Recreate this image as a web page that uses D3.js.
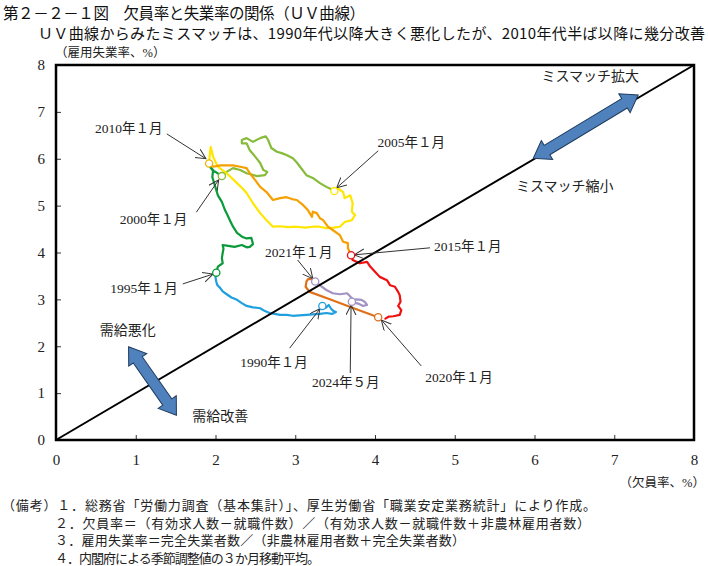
<!DOCTYPE html>
<html>
<head>
<meta charset="utf-8">
<script src="https://cdn.jsdelivr.net/npm/d3@7"></script>
<style>
	body { margin: 0; background: #fff; }
	svg { display: block; }
	.serif { font-family: "Liberation Serif", "Noto Sans CJK JP", serif; fill: #222; }
	.gothic { font-family: "Noto Sans CJK JP", sans-serif; fill: #111; }
	.curve { fill: none; stroke-width: 2.2; stroke-linejoin: round; stroke-linecap: round; }
</style>
</head>
<body>
<svg id="chart" width="708" height="566"></svg>
<script>
// UV curve: [vacancy rate, employed-person unemployment rate], 3-month moving average
const period1990 = [[3.34,2.86],[3.38,2.82],[3.42,2.88],[3.45,2.80],[3.48,2.75],[3.51,2.73],[3.46,2.69],[3.39,2.71],[3.31,2.69],[3.22,2.68],[3.14,2.67],[3.05,2.66],[2.97,2.65],[2.89,2.67],[2.81,2.67],[2.74,2.69],[2.68,2.71],[2.62,2.75],[2.56,2.81],[2.47,2.83],[2.39,2.86],[2.33,2.92],[2.27,2.99],[2.20,3.04],[2.14,3.11],[2.09,3.17],[2.06,3.24],[2.02,3.31],[2.01,3.38],[2.00,3.47],[2.01,3.57]];
const period1995 = [[2.01,3.57],[2.03,3.70],[2.09,3.77],[2.08,3.88],[2.09,3.99],[2.10,4.08],[2.09,4.16],[2.16,4.14],[2.24,4.12],[2.33,4.16],[2.39,4.11],[2.43,4.12],[2.47,4.18],[2.45,4.31],[2.39,4.30],[2.34,4.33],[2.27,4.42],[2.22,4.55],[2.20,4.62],[2.18,4.69],[2.15,4.80],[2.12,4.90],[2.08,5.08],[2.03,5.22],[2.01,5.33],[1.99,5.44],[1.96,5.61],[1.97,5.76],[1.93,5.83],[1.97,5.74],[2.00,5.72],[2.08,5.63]];
const period2000 = [[2.08,5.63],[2.14,5.72],[2.22,5.80],[2.31,5.76],[2.39,5.69],[2.46,5.66],[2.52,5.63],[2.62,5.65],[2.65,5.72],[2.60,5.76],[2.56,5.91],[2.50,6.04],[2.47,6.10],[2.43,6.18],[2.39,6.33],[2.33,6.33],[2.33,6.40],[2.39,6.44],[2.47,6.36],[2.56,6.44],[2.63,6.48],[2.66,6.40],[2.70,6.23],[2.77,6.15],[2.83,6.12],[2.89,6.08],[2.97,6.01],[3.02,5.92],[3.06,5.83],[3.14,5.65],[3.22,5.59],[3.31,5.48],[3.39,5.40],[3.44,5.36],[3.49,5.31]];
const period2005 = [[3.49,5.31],[3.54,5.37],[3.60,5.29],[3.62,5.16],[3.69,5.22],[3.72,5.05],[3.71,4.87],[3.75,4.80],[3.71,4.69],[3.62,4.65],[3.56,4.55],[3.48,4.53],[3.39,4.52],[3.30,4.55],[3.22,4.55],[3.12,4.53],[3.02,4.55],[2.91,4.54],[2.81,4.56],[2.72,4.55],[2.64,4.69],[2.56,4.84],[2.47,5.05],[2.39,5.27],[2.33,5.38],[2.27,5.48],[2.14,5.69],[2.03,5.83],[1.97,6.04],[1.94,6.25],[1.93,6.12],[1.92,5.90]];
const period2010 = [[1.92,5.90],[1.97,5.83],[2.06,5.86],[2.14,5.86],[2.22,5.86],[2.31,5.83],[2.39,5.80],[2.43,5.69],[2.50,5.54],[2.56,5.40],[2.64,5.29],[2.72,5.12],[2.81,5.16],[2.89,5.18],[2.96,5.14],[3.02,5.12],[3.10,5.01],[3.16,4.90],[3.21,4.76],[3.22,4.87],[3.27,4.84],[3.31,4.73],[3.35,4.69],[3.41,4.55],[3.47,4.48],[3.56,4.37],[3.60,4.23],[3.66,4.20],[3.66,4.09],[3.68,4.02],[3.70,3.94]];
const period2015 = [[3.70,3.94],[3.72,3.84],[3.81,3.77],[3.90,3.80],[3.94,3.70],[4.00,3.59],[4.06,3.48],[4.15,3.41],[4.19,3.30],[4.25,3.27],[4.29,3.16],[4.31,3.09],[4.32,2.95],[4.29,2.86],[4.33,2.77],[4.31,2.67],[4.23,2.64],[4.17,2.63],[4.13,2.59]];
const period2020 = [[4.04,2.62],[3.75,2.80],[3.45,2.99],[3.18,3.16],[3.13,3.27],[3.14,3.38],[3.16,3.43],[3.23,3.43],[3.25,3.38]];
const period2021 = [[3.25,3.38],[3.31,3.30],[3.39,3.20],[3.47,3.13],[3.56,3.11],[3.65,3.13],[3.69,3.06],[3.73,2.99],[3.77,3.00],[3.83,2.99],[3.87,2.95],[3.90,2.88],[3.85,2.86],[3.79,2.91],[3.73,2.93],[3.71,2.95]];

const seriesList = [period1990, period1995, period2000, period2005, period2010, period2015, period2020, period2021];
const seriesColors = ["#1ea0e0", "#0a9a3a", "#86bc3a", "#ffe600", "#f5a000", "#ee1111", "#e0701a", "#a393c4"];

// marked months: label, point, label position, arrow start, arrow end, circle colour
const markLabels = ["2010年１月", "2005年１月", "2000年１月", "2015年１月", "1995年１月", "2021年１月", "1990年１月", "2024年５月", "2020年１月"];
const markPoints = [[1.92,5.90],[3.49,5.31],[2.08,5.63],[3.70,3.94],[2.01,3.57],[3.25,3.38],[3.34,2.86],[3.71,2.95],[4.04,2.62]];
const markColors = ["#f0b400", "#ffe600", "#86bc3a", "#ee1111", "#0a9a3a", "#a393c4", "#1ea0e0", "#a393c4", "#e0701a"];
const labelPos = [[0.49,6.55],[4.03,6.25],[0.80,4.61],[4.74,4.03],[0.68,3.14],[2.62,3.90],[2.31,1.56],[3.21,1.13],[4.63,1.24]];
const arrowFrom = [[1.39,6.53],[4.04,6.17],[1.76,4.86],[4.69,4.10],[1.59,3.33],[3.03,3.84],[2.93,1.96],[3.69,1.43],[4.58,1.58]];
const arrowTo = [[1.88,6.00],[3.52,5.38],[2.04,5.55],[3.74,3.95],[1.97,3.54],[3.22,3.44],[3.31,2.80],[3.70,2.88],[4.08,2.56]];

const xTicks = [0, 1, 2, 3, 4, 5, 6, 7, 8];
const yTicks = [0, 1, 2, 3, 4, 5, 6, 7, 8];

const notes = [
	"（備考）１．総務省「労働力調査（基本集計）」、厚生労働省「職業安定業務統計」により作成。",
	"２．欠員率＝（有効求人数－就職件数）／（有効求人数－就職件数＋非農林雇用者数）",
	"３．雇用失業率＝完全失業者数／（非農林雇用者数＋完全失業者数）",
	"４．内閣府による季節調整値の３か月移動平均。"
];

const margin = { top: 65, right: 14, bottom: 126, left: 56 };
const width = 708;
const height = 566;

const svg = d3.select("#chart");

const x = d3.scaleLinear().domain([0, 8]).range([margin.left, width - margin.right]);
const y = d3.scaleLinear().domain([0, 8]).range([height - margin.bottom, margin.top]);

// titles
svg.append("text")
	.attr("class", "gothic")
	.attr("x", 3).attr("y", 19)
	.attr("font-size", 15.5)
	.attr("textLength", 362)
	.text("第２－２－１図　欠員率と失業率の関係（ＵＶ曲線）");

svg.append("text")
	.attr("class", "gothic")
	.attr("x", 38).attr("y", 39)
	.attr("font-size", 15)
	.attr("textLength", 667)
	.text("ＵＶ曲線からみたミスマッチは、1990年代以降大きく悪化したが、2010年代半ば以降に幾分改善");

svg.append("text")
	.attr("class", "serif")
	.attr("x", 55).attr("y", 57)
	.attr("font-size", 12.5)
	.text("（雇用失業率、%）");

// axes with inward ticks
svg.append("g")
	.attr("class", "xaxis")
	.attr("transform", `translate(0,${y(0)})`)
	.call(d3.axisBottom(x).tickValues(xTicks).tickSizeInner(-5).tickSizeOuter(0).tickPadding(14).tickFormat(d3.format("d")))
	.call(g => g.select(".domain").remove());

svg.append("g")
	.attr("class", "yaxis")
	.attr("transform", `translate(${x(0)},0)`)
	.call(d3.axisLeft(y).tickValues(yTicks).tickSizeInner(-5).tickSizeOuter(0).tickPadding(11).tickFormat(d3.format("d")))
	.call(g => g.select(".domain").remove());

svg.selectAll(".xaxis text, .yaxis text")
	.attr("class", "serif")
	.attr("font-size", 15);
svg.selectAll(".xaxis line, .yaxis line").attr("stroke", "#333");

svg.append("text")
	.attr("class", "serif")
	.attr("x", 705).attr("y", 487)
	.attr("text-anchor", "end")
	.attr("font-size", 12.5)
	.text("（欠員率、%）");

// curves
const lineGen = d3.line()
	.x(d => x(d[0]))
	.y(d => y(d[1]));

svg.append("g")
	.attr("class", "curve-group")
	.selectAll("path")
	.data(seriesList)
	.join("path")
	.attr("class", "curve")
	.attr("stroke", (d, i) => seriesColors[i])
	.attr("d", lineGen);

// 45 degree line
svg.append("line")
	.attr("x1", x(0)).attr("y1", y(0))
	.attr("x2", x(8)).attr("y2", y(8))
	.attr("stroke", "#000")
	.attr("stroke-width", 2);

// frame
svg.append("rect")
	.attr("x", x(0)).attr("y", y(8))
	.attr("width", x(8) - x(0)).attr("height", y(0) - y(8))
	.attr("fill", "none")
	.attr("stroke", "#000")
	.attr("stroke-width", 2.5);

// block double arrows
function blockArrow(p0, p1) {
	const [x0, y0] = [x(p0[0]), y(p0[1])];
	const [x1, y1] = [x(p1[0]), y(p1[1])];
	const len = Math.hypot(x1 - x0, y1 - y0);
	const ang = Math.atan2(y1 - y0, x1 - x0) * 180 / Math.PI;
	const hl = 16, hw = 11, sw = 5.5;
	const pts = [[0, 0], [hl, -hw], [hl, -sw], [len - hl, -sw], [len - hl, -hw], [len, 0], [len - hl, hw], [len - hl, sw], [hl, sw], [hl, hw]];
	svg.append("polygon")
		.attr("points", pts.map(p => p.join(",")).join(" "))
		.attr("transform", `translate(${x0},${y0}) rotate(${ang})`)
		.attr("fill", "#4f81bd")
		.attr("stroke", "#1f3b5e")
		.attr("stroke-width", 1);
}

blockArrow([5.985, 6.01], [7.30, 7.36]);
blockArrow([0.91, 1.99], [1.51, 0.53]);

const regionText = [
	{ t: "ミスマッチ拡大", p: [6.70, 7.66] },
	{ t: "ミスマッチ縮小", p: [6.38, 5.31] },
	{ t: "需給悪化", p: [0.90, 2.24] },
	{ t: "需給改善", p: [2.06, 0.41] }
];

svg.selectAll(".region-text")
	.data(regionText)
	.join("text")
	.attr("class", "region-text serif")
	.attr("x", d => x(d.p[0]))
	.attr("y", d => y(d.p[1]))
	.attr("text-anchor", "middle")
	.attr("font-size", 14)
	.text(d => d.t);

// annotation arrows
svg.append("defs").append("marker")
	.attr("id", "head")
	.attr("markerUnits", "userSpaceOnUse")
	.attr("markerWidth", 12).attr("markerHeight", 12)
	.attr("refX", 10).attr("refY", 5)
	.attr("orient", "auto")
	.append("path")
	.attr("d", "M0,0 L10,5 L0,10")
	.attr("fill", "none")
	.attr("stroke", "#333")
	.attr("stroke-width", 1);

const annGroup = svg.append("g").attr("class", "annotation-group");

markLabels.forEach((label, i) => {
	annGroup.append("line")
		.attr("x1", x(arrowFrom[i][0])).attr("y1", y(arrowFrom[i][1]))
		.attr("x2", x(arrowTo[i][0])).attr("y2", y(arrowTo[i][1]))
		.attr("stroke", "#333")
		.attr("stroke-width", 1)
		.attr("marker-end", "url(#head)");

	annGroup.append("text")
		.attr("class", "serif")
		.attr("x", x(labelPos[i][0]))
		.attr("y", y(labelPos[i][1]))
		.attr("font-size", 13.5)
		.text(label);
});

// marker circles
svg.append("g")
	.selectAll("circle")
	.data(markPoints)
	.join("circle")
	.attr("cx", d => x(d[0]))
	.attr("cy", d => y(d[1]))
	.attr("r", 3.6)
	.attr("fill", "#fff")
	.attr("stroke", (d, i) => markColors[i])
	.attr("stroke-width", 1.3);

// notes
const noteX = [2, 55, 55, 55];
const noteLen = [594, 535, 410, 265];
svg.selectAll(".note")
	.data(notes)
	.join("text")
	.attr("class", "note serif")
	.attr("x", (d, i) => noteX[i])
	.attr("y", (d, i) => 510 + i * 17.7)
	.attr("font-size", 13)
	.attr("textLength", (d, i) => noteLen[i])
	.text(d => d);
</script>
</body>
</html>
